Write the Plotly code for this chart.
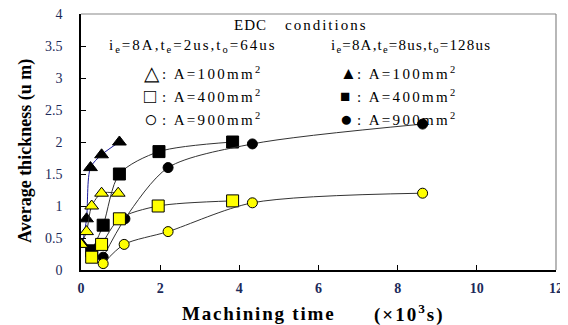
import plotly.graph_objects as go

# Data (machining time in 10^3 s, average thickness in um)
tri_open_x = [0.0, 0.14, 0.27, 0.52, 0.94]
tri_open_y = [0.4, 0.6, 1.0, 1.2, 1.2]
sq_open_x = [0.27, 0.52, 0.97, 1.95, 3.83]
sq_open_y = [0.2, 0.4, 0.8, 1.0, 1.08]
cir_open_x = [0.56, 1.09, 2.2, 4.33, 8.63]
cir_open_y = [0.1, 0.4, 0.6, 1.05, 1.2]

tri_fill_x = [0.03, 0.14, 0.24, 0.52, 0.97]
tri_fill_y = [0.4, 0.8, 1.6, 1.8, 2.0]
sq_fill_x = [0.27, 0.56, 0.97, 1.97, 3.83]
sq_fill_y = [0.3, 0.7, 1.5, 1.85, 2.0]
cir_fill_x = [0.56, 1.11, 2.2, 4.33, 8.63]
cir_fill_y = [0.2, 0.8, 1.6, 1.97, 2.28]

x_ticks = [0, 2, 4, 6, 8, 10, 12]
y_ticks = [0, 0.5, 1, 1.5, 2, 2.5, 3, 3.5, 4]
y_tick_text = ["0", "0.5", "1", "1.5", "2", "2.5", "3", "3.5", "4"]

SERIF = "Liberation Serif, Times New Roman, serif"
TICKCOL = "#1c2a5a"

fig = go.Figure()

def add(x, y, symbol, fill, size, linecol="#333333", lw=1.0):
    fig.add_trace(go.Scatter(
        x=x, y=y, mode="lines+markers",
        line=dict(color=linecol, width=lw, shape="spline", smoothing=0.8),
        marker=dict(symbol=symbol, size=size, color=fill,
                    line=dict(color="black", width=1)),
        showlegend=False, hoverinfo="skip"))

# filled (black) series first, yellow on top
add(tri_fill_x, tri_fill_y, "triangle-up", "black", 12, linecol="#1a1a9a")
add(sq_fill_x, sq_fill_y, "square", "black", 12)
add(cir_fill_x, cir_fill_y, "circle", "black", 10)
add(tri_open_x, tri_open_y, "triangle-up", "#ffff00", 12)
add(sq_open_x, sq_open_y, "square", "#ffff00", 12)
add(cir_open_x, cir_open_y, "circle", "#ffff00", 10)

# page body has an 8px margin: the figure is placed so that the
# plot area lands at window pixels x 81..556, y 14..270
OFF = 8
W, H = 560, 317
PL, PR, PT, PB = 81, 556, 14, 270
L = PL - OFF
R = (OFF + W) - PR
T = PT - OFF
B = (OFF + H) - PB
pw, ph = PR - PL, PB - PT

def px(x):
    return (x - PL) / pw

def py(y):
    return (PB - y) / ph

annots = []
def txt(x, y, s, size=15, xanchor="left", angle=0, ls=0.0):
    if ls:
        s = "<span style='letter-spacing:%.1fpx'>%s</span>" % (ls, s)
    annots.append(dict(x=px(x), y=py(y), xref="paper", yref="paper", text=s,
                       showarrow=False, xanchor=xanchor, yanchor="middle",
                       textangle=angle,
                       font=dict(family=SERIF, size=size, color="black")))

txt(232, 25, "EDC", 15, ls=1.0)
txt(283, 25, "conditions", 15, ls=2.0)
txt(107, 46, "i<sub>e</sub>=8A,t<sub>e</sub>=2us,t<sub>o</sub>=64us", 15, ls=2.0)
txt(329, 46, "i<sub>e</sub>=8A,t<sub>e</sub>=8us,t<sub>o</sub>=128us", 15, ls=1.2)
rows = [73, 96, 119]
labels = [": A=100mm<sup>2</sup>", ": A=400mm<sup>2</sup>", ": A=900mm<sup>2</sup>"]
open_sym = ["△", "□", "○"]
open_sz = [20, 20, 23]
fill_sym = ["▲", "■", "●"]
fill_sz = [17, 17, 21]
for r, lab, o, osz, f, fsz in zip(rows, labels, open_sym, open_sz, fill_sym, fill_sz):
    txt(142, r, "<span style='font-size:%dpx'>%s</span>" % (osz, o), 15)
    txt(160, r, lab, 15, ls=2.3)
    txt(338, r, "<span style='font-size:%dpx'>%s</span>" % (fsz, f), 15)
    txt(355, r, lab, 15, ls=2.3)

txt(180, 313, "<b>Machining time</b>", 19, ls=1.8)
txt(372, 313, "<b>(×10<sup>3</sup>s)</b>", 19, ls=2.0)
txt(25, 151, "<b>Average thickness (u m)</b>", 18, "center", angle=-90)

fig.update_layout(
    width=W, height=H,
    margin=dict(l=L, r=R, t=T, b=B, pad=0),
    paper_bgcolor="white", plot_bgcolor="white",
    annotations=annots,
    shapes=[
        dict(type="line", xref="paper", yref="paper", x0=0, x1=1, y0=1, y1=1,
             line=dict(color="#888888", width=1.2)),
        dict(type="line", xref="paper", yref="paper", x0=1, x1=1, y0=0, y1=1,
             line=dict(color="#888888", width=1.2)),
    ],
)
fig.update_xaxes(range=[0, 12], tickvals=x_ticks, ticks="inside", ticklen=5,
                 showgrid=False, zeroline=False, showline=True, automargin=False,
                 linecolor="black", linewidth=1.5, tickcolor="black",
                 ticklabelstandoff=4, ticklabeloverflow="allow",
                 tickfont=dict(family=SERIF, size=14, color=TICKCOL, weight="bold"))
fig.update_yaxes(range=[0, 4], tickvals=y_ticks, ticktext=y_tick_text,
                 ticks="inside", ticklen=5, automargin=False,
                 showgrid=False, zeroline=False, showline=True,
                 linecolor="black", linewidth=1.5, tickcolor="black",
                 ticklabelstandoff=14, ticklabeloverflow="allow",
                 tickfont=dict(family=SERIF, size=14, color=TICKCOL))

fig.write_html("out.html")
